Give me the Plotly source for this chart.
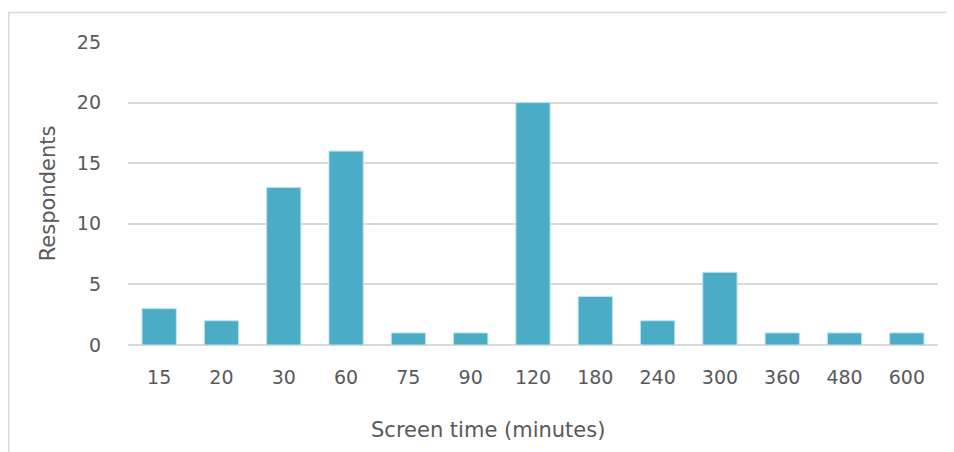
import plotly.graph_objects as go

categories = ["15", "20", "30", "60", "75", "90", "120", "180", "240", "300", "360", "480", "600"]
respondents = [3, 2, 13, 16, 1, 1, 20, 4, 2, 6, 1, 1, 1]
y_ticks = [0, 5, 10, 15, 20, 25]

# page body adds an 8px offset; figure sized to sit inside the 954x452 window
W, H = 946, 444
L, R, T, B = 120, 16, 34, 107
pw, ph = W - L - R, H - T - B

def px_x(x):
    return (x - L) / pw

def px_y(y):
    return (H - B - y) / ph

fig = go.Figure(go.Bar(
    x=categories, y=respondents,
    marker=dict(color="#4BACC6", line=dict(color="#BFE3EC", width=1)),
))

fig.update_layout(
    width=W, height=H,
    margin=dict(l=L, r=R, t=T, b=B),
    paper_bgcolor="white", plot_bgcolor="white",
    bargap=0.45,
    font=dict(family="DejaVu Sans, sans-serif", size=19, color="#595959"),
    showlegend=False,
    shapes=[dict(type="rect", xref="paper", yref="paper",
                 x0=px_x(0.75), x1=px_x(980), y0=px_y(4.5), y1=px_y(480),
                 line=dict(color="#D9D9D9", width=1.5), fillcolor="rgba(0,0,0,0)", layer="below")],
    annotations=[dict(text="Screen time (minutes)", xref="paper", yref="paper",
                      x=px_x(480), y=px_y(422), xanchor="center", yanchor="middle",
                      showarrow=False, font=dict(size=21, color="#595959"))],
)
fig.update_xaxes(type="category", showgrid=False, showline=False, ticks="",
                 ticklabelstandoff=19)
fig.update_yaxes(range=[0, 25], tickvals=y_ticks, showgrid=True, gridcolor="#D9D9D9", gridwidth=1.5,
                 zeroline=True, zerolinecolor="#D9D9D9", zerolinewidth=1.5, showline=False, ticks="",
                 ticklabelstandoff=26,
                 title=dict(text="Respondents", standoff=15, font=dict(size=21)))

fig.write_html("out.html")
